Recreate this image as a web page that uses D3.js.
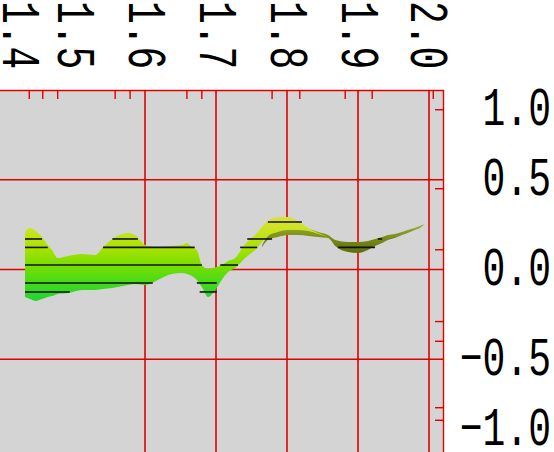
<!DOCTYPE html>
<html><head><meta charset="utf-8">
<script src="https://cdn.jsdelivr.net/npm/d3@7"></script>
<style>html,body{margin:0;padding:0;background:#fff;overflow:hidden}</style>
</head><body>
<svg id="c" width="554" height="452"></svg>
<script>
// ---- data ----
const xTicks = [1.4, 1.5, 1.6, 1.7, 1.8, 1.9, 2.0];
const xGrid = [1.6, 1.7, 1.8, 1.9, 2.0];
const xMinor = [1.437, 1.456, 1.477, 1.558, 1.579, 1.659, 1.680, 1.779, 1.818, 1.882, 1.920, 2.006];
const yTicks = [1.0, 0.5, 0.0, -0.5, -1.0];
const yGrid = [0.5, 0.0, -0.5];
const yMinor = [0.89, 0.45, 0.11, -0.29, -0.40, -0.77, -0.84];

// front (green/yellow) surface of the ribbon
const frontX = [1.431, 1.438, 1.446, 1.455, 1.463, 1.469, 1.477, 1.492, 1.511, 1.530, 1.541, 1.554, 1.576, 1.586, 1.600, 1.610, 1.618, 1.638, 1.652, 1.659, 1.666, 1.673, 1.680, 1.689, 1.696, 1.708, 1.717, 1.727, 1.741, 1.755, 1.773, 1.787, 1.801, 1.815, 1.830, 1.844, 1.858];
const frontUpper = [0.209, 0.231, 0.214, 0.181, 0.136, 0.109, 0.064, 0.075, 0.086, 0.081, 0.125, 0.170, 0.203, 0.192, 0.136, 0.125, 0.125, 0.131, 0.136, 0.148, 0.125, 0.109, 0.025, 0.003, 0.008, 0.025, 0.047, 0.064, 0.142, 0.192, 0.270, 0.292, 0.292, 0.270, 0.231, 0.203, 0.181];
const frontLower = [-0.153, -0.164, -0.175, -0.164, -0.153, -0.148, -0.136, -0.131, -0.114, -0.114, -0.109, -0.103, -0.086, -0.081, -0.086, -0.075, -0.058, -0.025, -0.019, -0.025, -0.036, -0.058, -0.097, -0.153, -0.131, -0.058, -0.014, 0.008, 0.064, 0.109, 0.187, 0.209, 0.220, 0.220, 0.214, 0.198, 0.181];

// back (olive) surface of the ribbon
const backX = [1.765, 1.773, 1.787, 1.801, 1.815, 1.830, 1.844, 1.858, 1.868, 1.886, 1.900, 1.914, 1.924, 1.934, 1.942, 1.952, 1.962, 1.970, 1.980, 1.987, 1.994];
const backUpper = [0.136, 0.187, 0.214, 0.231, 0.231, 0.226, 0.209, 0.192, 0.164, 0.153, 0.153, 0.159, 0.170, 0.181, 0.192, 0.198, 0.209, 0.220, 0.231, 0.242, 0.253];
const backLower = [0.125, 0.164, 0.181, 0.192, 0.192, 0.187, 0.181, 0.175, 0.131, 0.097, 0.092, 0.109, 0.131, 0.148, 0.164, 0.175, 0.192, 0.203, 0.220, 0.231, 0.253];

// contour segments (level, from, to)
const contourLevel = [0.170, 0.170, 0.170, 0.170, 0.123, 0.123, 0.123, 0.123, 0.025, 0.025, -0.075, -0.075, -0.125, -0.125, 0.265];
const contourFrom  = [1.431, 1.554, 1.744, 1.928, 1.431, 1.541, 1.734, 1.872, 1.431, 1.706, 1.431, 1.673, 1.431, 1.677, 1.773];
const contourTo    = [1.455, 1.590, 1.779, 1.934, 1.463, 1.670, 1.758, 1.924, 1.680, 1.731, 1.611, 1.701, 1.494, 1.701, 1.821];

// ---- drawing ----
const plot = {left: 0, right: 444, top: 90, bottom: 452};
const x = d3.scaleLinear().domain([1.4, 2.0]).range([3, 429]);
const y = d3.scaleLinear().domain([-1, 1]).range([449, 90]);
const RED = "#e00000";
const svg = d3.select("#c");

const defs = svg.append("defs");
const g1 = defs.append("linearGradient").attr("id", "gFront")
  .attr("gradientUnits", "userSpaceOnUse").attr("x1", 0).attr("x2", 0).attr("y1", 215).attr("y2", 302);
[[0, "#dfe040"], [0.2, "#c6e41a"], [0.4, "#a4e200"], [0.58, "#78de00"], [0.78, "#46da1a"], [1, "#20d236"]]
  .forEach(([o, c]) => g1.append("stop").attr("offset", o).attr("stop-color", c));
const g2 = defs.append("linearGradient").attr("id", "gBack")
  .attr("gradientUnits", "userSpaceOnUse").attr("x1", 0).attr("x2", 0).attr("y1", 222).attr("y2", 254);
[[0, "#a2b22c"], [0.45, "#7e8f1c"], [1, "#5a6c0c"]]
  .forEach(([o, c]) => g2.append("stop").attr("offset", o).attr("stop-color", c));

svg.append("rect").attr("x", plot.left).attr("y", plot.top)
  .attr("width", plot.right - plot.left).attr("height", plot.bottom - plot.top).attr("fill", "#d4d4d4");

// grid
svg.append("g").selectAll("line").data(yGrid).join("line")
  .attr("x1", plot.left).attr("x2", plot.right)
  .attr("y1", d => y(d)).attr("y2", d => y(d))
  .attr("stroke", RED).attr("stroke-width", 1.6);
svg.append("g").selectAll("line").data(xGrid).join("line")
  .attr("x1", d => x(d)).attr("x2", d => x(d))
  .attr("y1", plot.top).attr("y2", plot.bottom)
  .attr("stroke", RED).attr("stroke-width", 1.6);

// borders
svg.append("line").attr("x1", plot.left).attr("x2", plot.right).attr("y1", plot.top + 0.5).attr("y2", plot.top + 0.5)
  .attr("stroke", RED).attr("stroke-width", 1.4);
svg.append("line").attr("x1", plot.right - 0.5).attr("x2", plot.right - 0.5).attr("y1", plot.top).attr("y2", plot.bottom)
  .attr("stroke", RED).attr("stroke-width", 1.4);

// minor ticks
svg.append("g").selectAll("line").data(xMinor).join("line")
  .attr("x1", d => x(d)).attr("x2", d => x(d))
  .attr("y1", plot.top).attr("y2", plot.top + 9)
  .attr("stroke", RED).attr("stroke-width", 1.4);
svg.append("g").selectAll("line").data(yMinor).join("line")
  .attr("x1", plot.right - 9).attr("x2", plot.right)
  .attr("y1", d => y(d)).attr("y2", d => y(d))
  .attr("stroke", RED).attr("stroke-width", 1.4);

// ribbon
const backData = backX.map((v, i) => ({x: v, u: backUpper[i], l: backLower[i]}));
const frontData = frontX.map((v, i) => ({x: v, u: frontUpper[i], l: frontLower[i]}));
const area = d3.area().x(d => x(d.x)).y0(d => y(d.l)).y1(d => y(d.u)).curve(d3.curveMonotoneX);
svg.append("path").datum(backData).attr("d", area).attr("fill", "url(#gBack)");
svg.append("path").datum(frontData).attr("d", area).attr("fill", "url(#gFront)");

// contour lines
svg.append("g").selectAll("line").data(contourLevel.map((lv, i) => ({lv, a: contourFrom[i], b: contourTo[i]})))
  .join("line")
  .attr("x1", d => x(d.a)).attr("x2", d => x(d.b))
  .attr("y1", d => y(d.lv)).attr("y2", d => y(d.lv))
  .attr("stroke", "#111").attr("stroke-width", 1.6);

// labels
const FONT = "'Liberation Mono', 'DejaVu Sans Mono', monospace";
const FS = 38, SY = 1.42;
const fmt = d3.format(".1f");
svg.append("g").selectAll("text").data(xTicks).join("text")
  .attr("transform", d => `translate(${Math.min(Math.max(x(d), 19), 427)},1) rotate(90) scale(1,${SY})`)
  .attr("dy", "0.29em")
  .attr("font-family", FONT).attr("font-size", FS).attr("fill", "#000")
  .text(d => fmt(d));
svg.append("g").selectAll("text").data(yTicks).join("text")
  .attr("transform", d => `translate(551,${Math.min(Math.max(y(d), 109), 429)}) scale(1,${SY})`)
  .attr("dy", "0.29em").attr("text-anchor", "end")
  .attr("font-family", FONT).attr("font-size", FS).attr("fill", "#000")
  .text(d => fmt(d));
</script>
</body></html>
